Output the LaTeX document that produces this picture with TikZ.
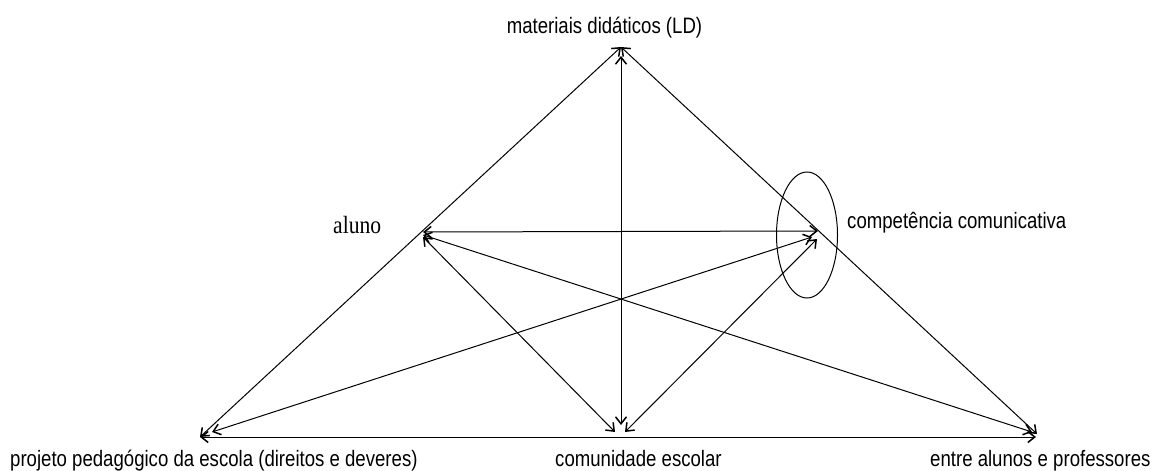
\documentclass[tikz,border=0pt]{standalone}
\usepackage{fontspec}
\setmainfont{Liberation Serif}
\setsansfont{Liberation Sans}
\usetikzlibrary{arrows.meta,shapes.geometric}
\tikzset{
  tip/.tip={Straight Barb[length=7pt,width=11pt,line width=1.5pt]},
  link/.style={line width=1pt,tip-tip},
  lbl/.style={inner sep=0pt,font=\sffamily\fontsize{18.6}{22}\selectfont},
  lblserif/.style={inner sep=0pt,font=\rmfamily\fontsize{21.6}{25}\selectfont}
}
\newcommand{\vs}[1]{\scalebox{1}[1.2]{#1}}
\begin{document}
\begin{tikzpicture}[x=1pt,y=-1pt]
\useasboundingbox (0,0) rectangle (1160,471);
% points
\coordinate (T) at (621,47);
\coordinate (Tv) at (621,56);
\coordinate (L) at (200,437);
\coordinate (Lb) at (200,437);
\coordinate (Lk) at (212,432);
\coordinate (R) at (1037,434);
\coordinate (Rb) at (1036,437);
\coordinate (Ra) at (1032,432);
\coordinate (A) at (423,232);
\coordinate (Ar) at (423,235);
\coordinate (Ac) at (423,237);
\coordinate (K) at (818,231);
\coordinate (Kl) at (812,237);
\coordinate (Kc) at (817,239);
\coordinate (Cv) at (621,425);
\coordinate (Ca) at (615,432);
\coordinate (Ck) at (625,432);
% ellipse
\node[draw,line width=1pt,ellipse,minimum width=61pt,minimum height=126pt,inner sep=0pt] (E) at (807,235) {};
% connectors
\draw[link] (T) -- (L);
\draw[link] (T) -- (R);
\draw[link] (Tv) -- (Cv);
\draw[link] (Lb) -- (Rb);
\draw[link] (A) -- (K);
\draw[link] (Ac) -- (Ca);
\draw[link] (Ar) -- (Ra);
\draw[link] (Lk) -- (Kl);
\draw[link] (Ck) -- (Kc);
% labels
\node[lbl,anchor=base] (ld) at (604.5,34) {\vs{materiais didáticos (LD)}};
\node[lblserif,anchor=base west] (al) at (333,233) {\scalebox{1}[1.15]{aluno}};
\node[lbl,anchor=base west] (cc) at (847,228) {\vs{competência comunicativa}};
\node[lbl,anchor=base west] (pp) at (10,466) {\vs{projeto pedagógico da escola (direitos e deveres)}};
\node[lbl,anchor=base west] (ce) at (555,466) {\vs{comunidade escolar}};
\node[lbl,anchor=base west] (ap) at (930,466) {\vs{entre alunos e professores}};
\end{tikzpicture}
\end{document}
